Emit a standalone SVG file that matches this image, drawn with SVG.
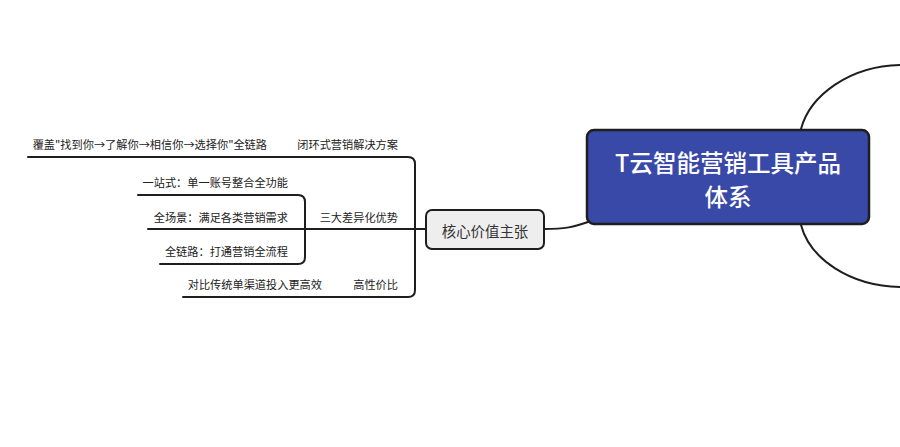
<svg xmlns="http://www.w3.org/2000/svg" width="900" height="447" viewBox="0 0 900 447">
<style>
.ln{fill:none;stroke:#1e1e1e;stroke-width:2;stroke-linecap:round;stroke-linejoin:round}
.t{font-family:"Noto Sans CJK SC","Noto Sans",sans-serif;font-size:11.2px;fill:#222;dominant-baseline:central;text-anchor:end}
.core rect{fill:#eeeeee;stroke:#1e1e1e;stroke-width:2}
.core text{font-family:"Noto Sans CJK SC","Noto Sans",sans-serif;font-size:14.4px;fill:#333;dominant-baseline:central;text-anchor:middle}
.root rect{fill:#3949a8;stroke:#1e1e1e;stroke-width:2.5}
.root text{font-family:"Noto Sans CJK SC","Noto Sans",sans-serif;font-size:23.5px;font-weight:500;fill:#ffffff;dominant-baseline:central;text-anchor:middle}
</style>
<rect width="900" height="447" fill="#ffffff"/>
<g id="connectors">
<path class="ln" d="M 801 129 C 810 95, 850 66, 900 65"/>
<path class="ln" d="M 801 225 C 810 259, 850 286, 900 287"/>
<path class="ln" d="M 544 229 C 565 229, 574 227, 588 222"/>
<path class="ln" d="M 426 229 H 415"/>
<path class="ln" d="M 28 157 H 408 Q 415 157 415 164 V 290 Q 415 297 408 297 H 183"/>
<path class="ln" d="M 415 229 H 305"/>
<path class="ln" d="M 138 195 H 298 Q 305 195 305 202 V 257 Q 305 264 298 264 H 160"/>
<path class="ln" d="M 305 229 H 148"/>
</g>
<g id="root" class="root">
<rect x="587" y="130" width="282" height="94" rx="7"/>
<text x="728" y="162">T云智能营销工具产品</text>
<text x="728" y="196">体系</text>
</g>
<g id="core" class="core">
<rect x="426" y="210" width="118" height="39" rx="6"/>
<text x="485" y="230">核心价值主张</text>
</g>
<g id="n-closed-loop">
<text class="t" x="398" y="144">闭环式营销解决方案</text>
</g>
<g id="n-closed-loop-detail">
<text class="t" x="267" y="144">覆盖"找到你→了解你→相信你→选择你"全链路</text>
</g>
<g id="n-three">
<text class="t" x="398" y="217">三大差异化优势</text>
</g>
<g id="n-one-stop">
<text class="t" x="288" y="182">一站式：单一账号整合全功能</text>
</g>
<g id="n-all-scene">
<text class="t" x="288" y="217">全场景：满足各类营销需求</text>
</g>
<g id="n-all-chain">
<text class="t" x="288" y="251">全链路：打通营销全流程</text>
</g>
<g id="n-cost">
<text class="t" x="398" y="284">高性价比</text>
</g>
<g id="n-cost-detail">
<text class="t" x="322" y="284">对比传统单渠道投入更高效</text>
</g>
</svg>
